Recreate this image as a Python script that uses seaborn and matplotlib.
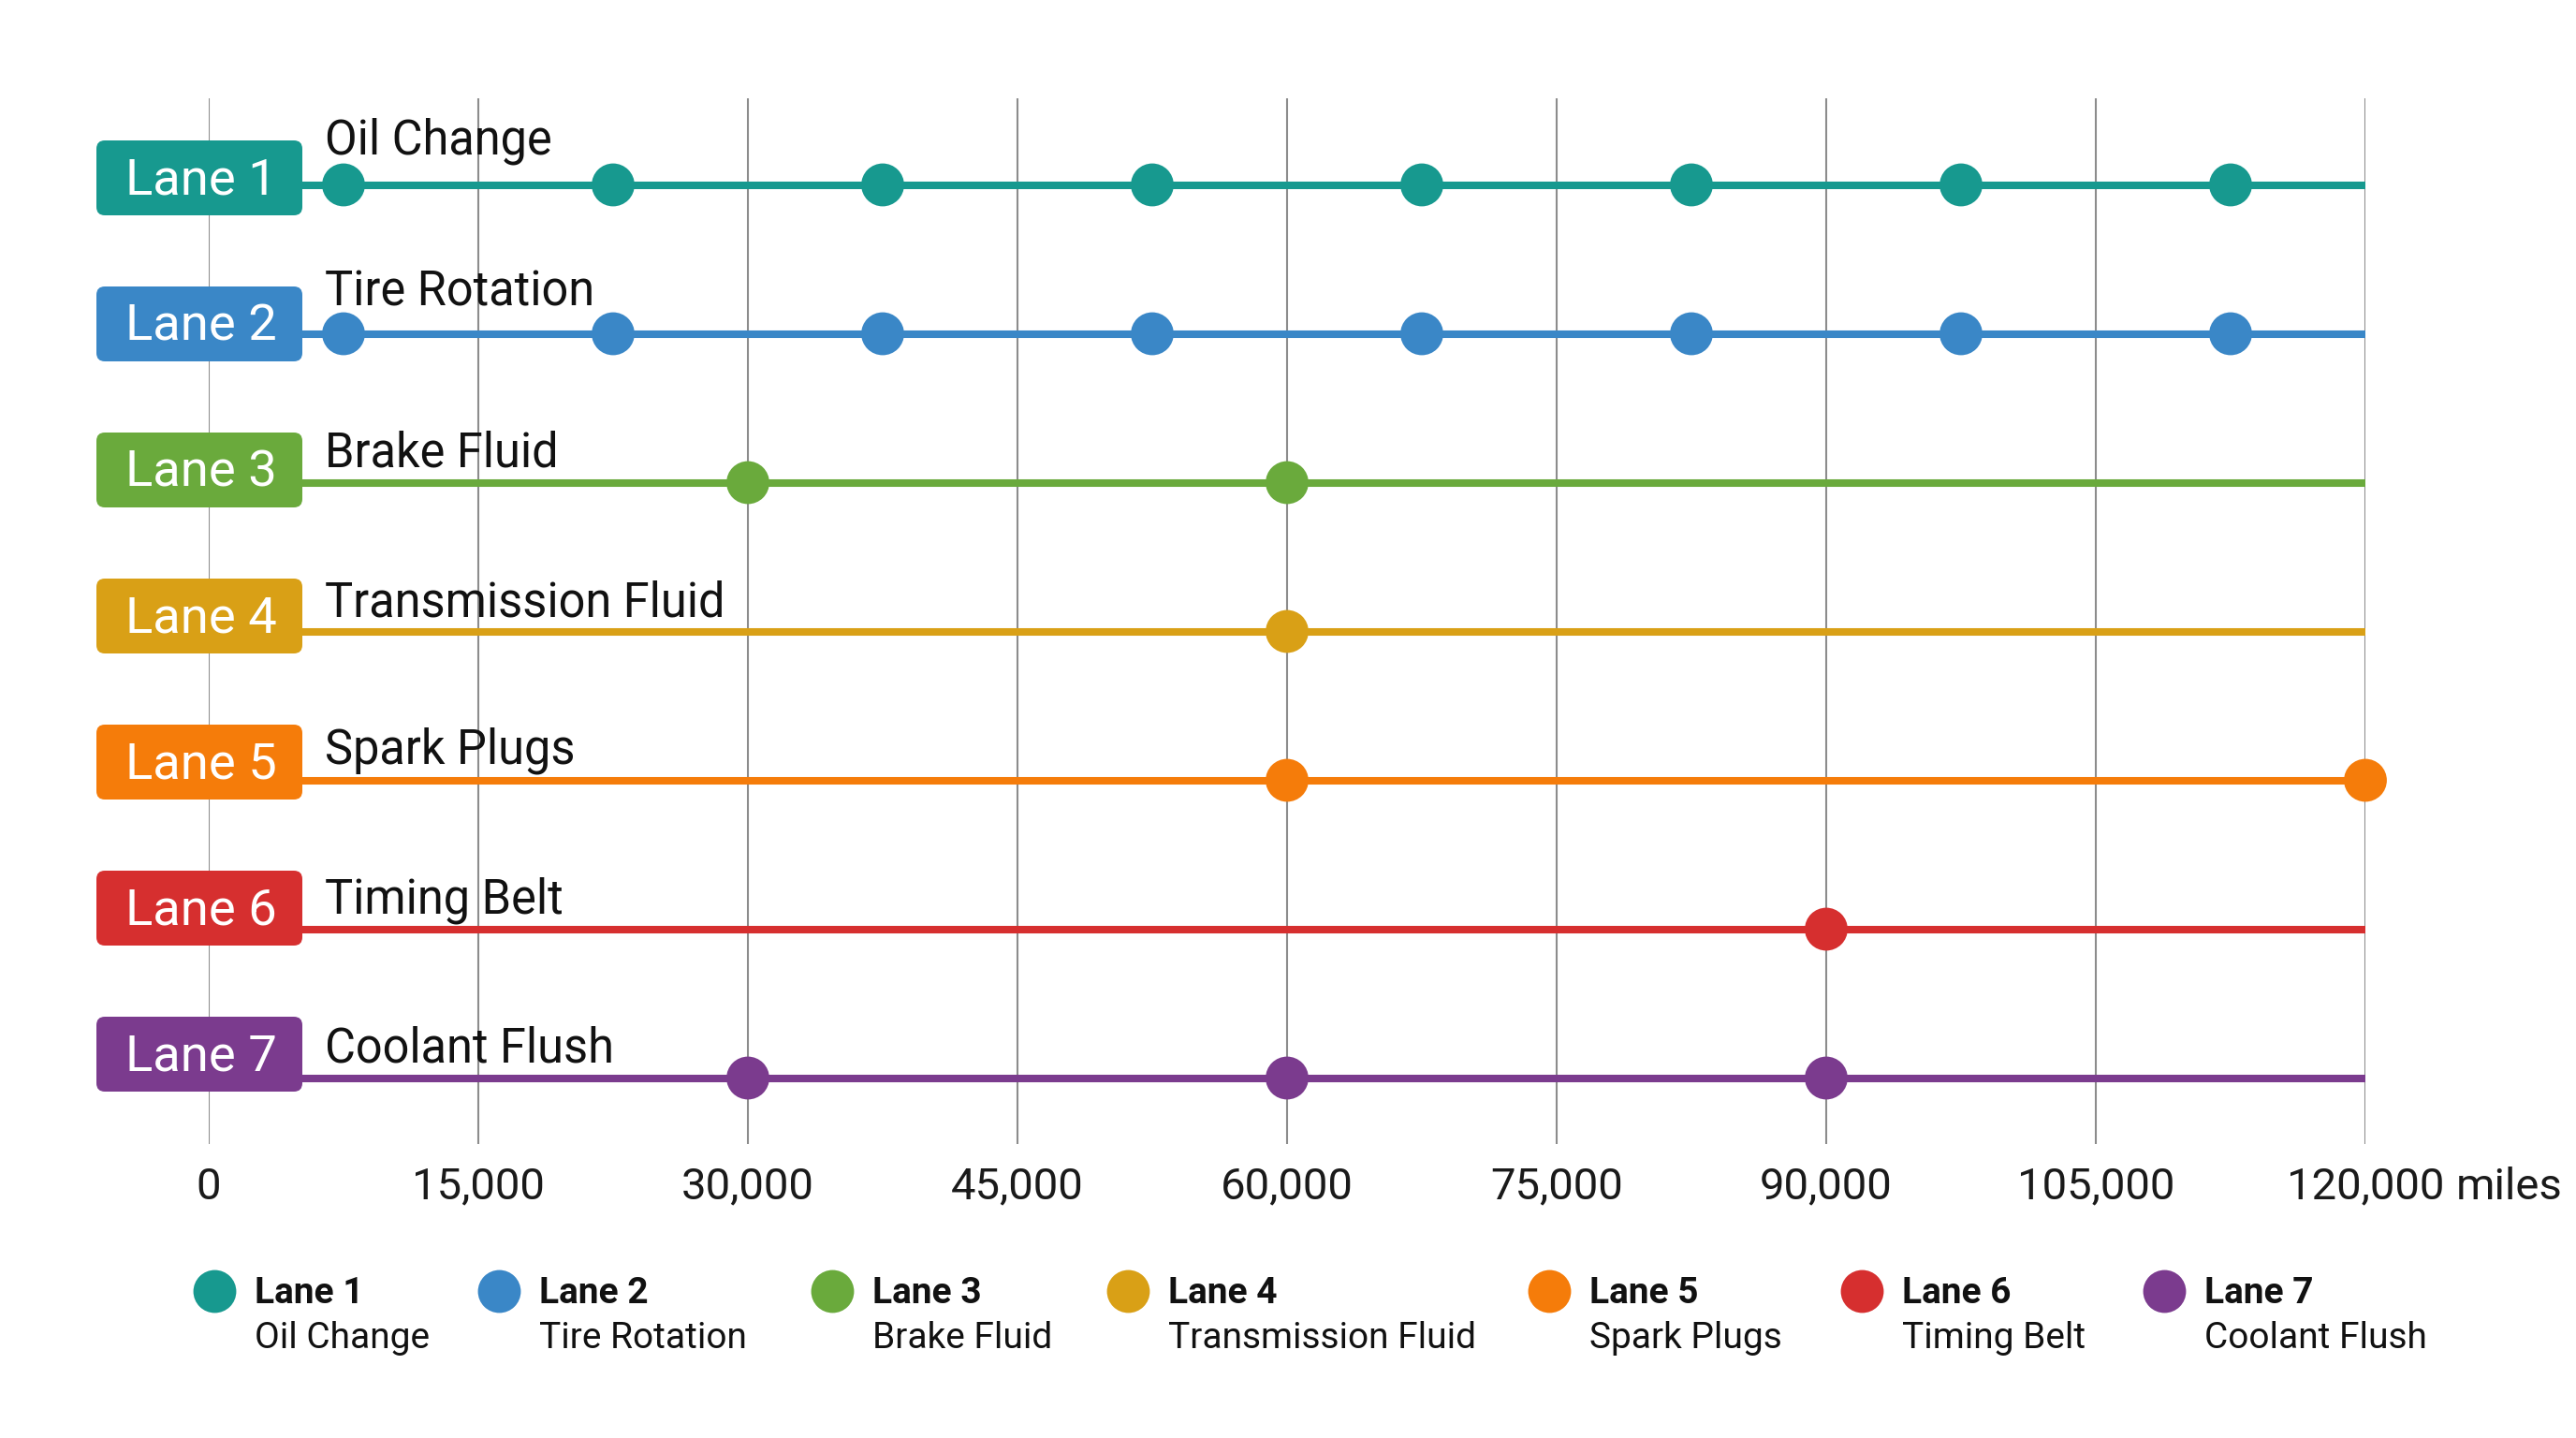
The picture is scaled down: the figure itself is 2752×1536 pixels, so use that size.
import matplotlib
matplotlib.use("Agg")
import matplotlib.pyplot as plt
import seaborn as sns
import pandas as pd
from matplotlib.patches import FancyBboxPatch
from matplotlib.lines import Line2D
from matplotlib.transforms import blended_transform_factory

# ---------------- data ----------------
lanes = ["Lane 1", "Lane 2", "Lane 3", "Lane 4", "Lane 5", "Lane 6", "Lane 7"]
tasks = ["Oil Change", "Tire Rotation", "Brake Fluid", "Transmission Fluid",
         "Spark Plugs", "Timing Belt", "Coolant Flush"]
colors = ["#17998f", "#3a87c7", "#6aaa3c", "#d9a016", "#f57c0a", "#d62f2f", "#7b3b8e"]

lane1_miles = [7500, 22500, 37500, 52500, 67500, 82500, 97500, 112500]
lane2_miles = [7500, 22500, 37500, 52500, 67500, 82500, 97500, 112500]
lane3_miles = [30000, 60000]
lane4_miles = [60000]
lane5_miles = [60000, 120000]
lane6_miles = [90000]
lane7_miles = [30000, 60000, 90000]
lane_miles = [lane1_miles, lane2_miles, lane3_miles, lane4_miles,
              lane5_miles, lane6_miles, lane7_miles]

x_ticks = [0, 15000, 30000, 45000, 60000, 75000, 90000, 105000, 120000]
x_tick_labels = ["0", "15,000", "30,000", "45,000", "60,000", "75,000",
                 "90,000", "105,000", "120,000"]
unit_label = "miles"
max_miles = 120000

rows = []
for i, (lane, task, miles) in enumerate(zip(lanes, tasks, lane_miles)):
    for m in miles:
        rows.append({"lane": lane, "task": task, "miles": m, "row": i})
df = pd.DataFrame(rows)

# ---------------- figure ----------------
sns.set_theme(style="white")
plt.rcParams["font.family"] = ["Roboto", "DejaVu Sans"]

W, H = 2752, 1536
fig = plt.figure(figsize=(W / 200, H / 200), dpi=200)
fig.patch.set_facecolor("white")

ax_left, ax_right, ax_top, ax_bot = 223, 2527, 105, 1222
ax = fig.add_axes([ax_left / W, 1 - ax_bot / H, (ax_right - ax_left) / W, (ax_bot - ax_top) / H])

px_per_row = 159.0
y_top = -(197.5 - ax_top) / px_per_row
y_bot = (ax_bot - 197.5) / px_per_row
ax.set_xlim(0, max_miles)
ax.set_ylim(y_bot, y_top)

# grid
ax.set_xticks(x_ticks)
ax.set_xticklabels(x_tick_labels)
ax.set_yticks([])
ax.grid(axis="x", color="#8c8c8c", linewidth=0.75, zorder=0)
ax.grid(axis="y", visible=False)
for s in ax.spines.values():
    s.set_visible(False)
ax.tick_params(axis="x", length=0, pad=8.5, labelsize=17, labelcolor="#1a1a1a")

# lane lines
for i, c in enumerate(colors):
    ax.hlines(i, 0, max_miles, color=c, linewidth=2.9, zorder=2)

# points
sns.scatterplot(data=df, x="miles", y="row", hue="lane", palette=colors,
                hue_order=lanes, s=272, edgecolor="none", linewidth=0,
                legend=False, zorder=3, clip_on=False, ax=ax)
ax.set_xlabel("")
ax.set_ylabel("")

# lane label boxes
px_per_unit_x = (ax_right - ax_left) / max_miles
box_x0 = (103 - ax_left) / px_per_unit_x
box_x1 = (323 - ax_left) / px_per_unit_x
box_h = 80 / px_per_row
rad_px = 9
rad_x = rad_px / px_per_unit_x
rad_y = rad_px / px_per_row
label_offsets_px = [33, 30, 17, 16, 18, 17, 17]
for i, (lane, task, c) in enumerate(zip(lanes, tasks, colors)):
    box_center = (190 + 156 * i - 197.5) / px_per_row
    box = FancyBboxPatch((box_x0, box_center - box_h / 2), box_x1 - box_x0, box_h,
                         boxstyle=f"round,pad=0,rounding_size={rad_x}",
                         mutation_aspect=rad_y / rad_x,
                         facecolor=c, edgecolor="none", zorder=4, clip_on=False)
    ax.add_patch(box)
    ax.text((box_x0 + box_x1) / 2 + 2 / px_per_unit_x, box_center + 17.5 / px_per_row, lane,
            color="white", fontsize=19.6, ha="center", va="baseline", zorder=5)
    ax.text((347 - ax_left) / px_per_unit_x, i - label_offsets_px[i] / px_per_row, task,
            color="#111111", fontsize=18.2, ha="left", va="baseline", zorder=5)

# unit label after last tick
trans = blended_transform_factory(ax.transData, ax.transAxes)
ax.annotate(unit_label, xy=(max_miles, 0), xycoords=trans,
            xytext=(35, -8.5), textcoords="offset points",
            ha="left", va="top", fontsize=17, color="#1a1a1a", annotation_clip=False)

# legend
leg_marker_x = [229, 533, 889, 1205, 1655, 1989, 2312]
leg_y = 1379
for i, (lane, task, c) in enumerate(zip(lanes, tasks, colors)):
    mx = leg_marker_x[i]
    fig.add_artist(Line2D([mx / W], [1 - leg_y / H], marker="o", markersize=16.5,
                          color=c, linestyle="none", markeredgewidth=0,
                          transform=fig.transFigure))
    fig.text((mx + 43) / W, 1 - 1392 / H, lane, fontsize=14, fontweight="bold",
             color="#111111", ha="left", va="baseline")
    fig.text((mx + 43) / W, 1 - 1440 / H, task, fontsize=14,
             color="#111111", ha="left", va="baseline")

fig.savefig("out.png", dpi=200, facecolor="white")
